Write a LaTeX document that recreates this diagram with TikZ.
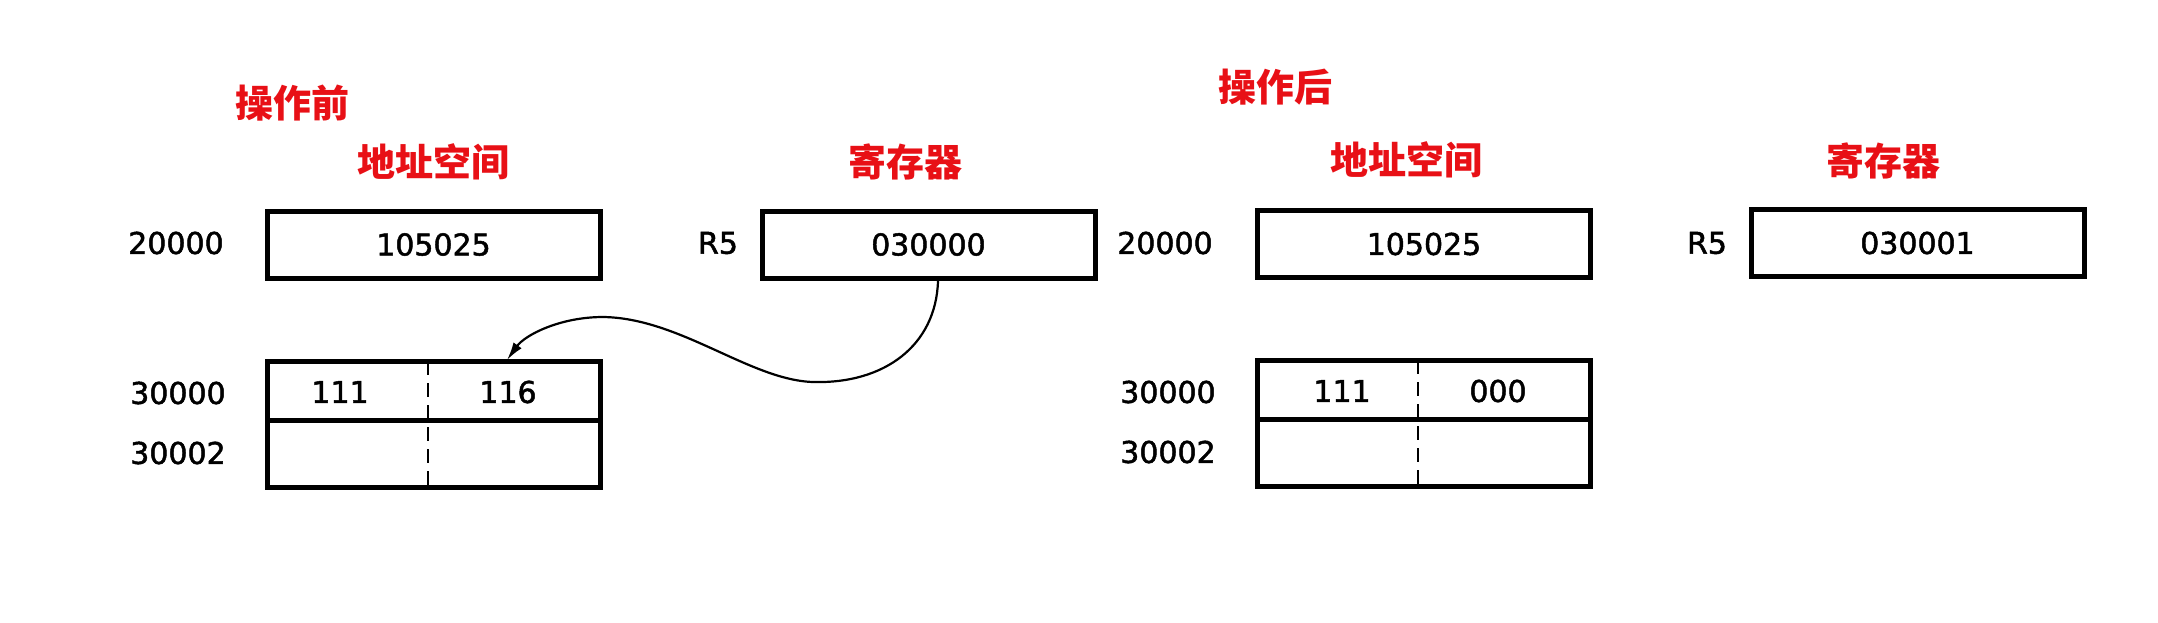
\documentclass[tikz,border=0pt]{standalone}
\usepackage{fontspec}
\setmainfont{DejaVu Sans}
\newfontfamily\digitfont{DejaVu Sans}[FakeBold=1.6]
\newfontfamily\cjk{Noto Sans CJK SC}
\usetikzlibrary{arrows.meta}
\definecolor{headred}{RGB}{232,16,22}
\tikzset{
  head/.style={text=headred, font=\cjk\bfseries\fontsize{38}{40}\selectfont, inner sep=0pt},
  num/.style={font=\digitfont\fontsize{30}{32}\selectfont, inner sep=0pt},
  cellbox/.style={draw, line width=5pt, minimum width=333pt, minimum height=67pt, inner sep=0pt, font=\digitfont\fontsize{30}{32}\selectfont},
  membox/.style={draw, line width=5pt, minimum width=333pt, minimum height=126pt, inner sep=0pt},
  divider/.style={line width=5pt},
  halfline/.style={line width=2.2pt, dash pattern=on 14pt off 8pt},
  pointer/.style={line width=2.2pt, -{Latex[length=18pt,width=10pt]}}
}
\begin{document}
\begin{tikzpicture}[x=1pt,y=-1pt]
\useasboundingbox (0,0) rectangle (2158,622);
% ---------- before ----------
\node[head] (hbefore) at (292,103) {操作前};
\node[head] (haddrL) at (433,162) {地址空间};
\node[head] (hregL) at (905,162) {寄存器};
\node[num] (a20000L) at (176,243) {20000};
\node[cellbox] (wordL) at (433.5,244.5) {105025};
\node[num] (r5L) at (718,243) {R5};
\node[cellbox] (regL) at (928.5,244.5) {030000};
\node[membox] (memL) at (434,424) {};
\coordinate (memLdivW) at (267,420);
\coordinate (memLdivE) at (601,420);
\coordinate (memLdashN) at (428,361);
\coordinate (memLdashS) at (428,487);
\draw[divider] (memLdivW) -- (memLdivE);
\draw[halfline] (memLdashN) -- (memLdashS);
\node[num] (c111L) at (340,392) {111};
\node[num] (c116L) at (508,392) {116};
\node[num] (a30000L) at (178,393) {30000};
\node[num] (a30002L) at (178,453) {30002};
\coordinate (ptrStart) at (938,281);
\coordinate (ptrEnd) at (507,360);
\draw[pointer] (ptrStart) .. controls (936,345) and (885,384) .. (813,382)
  .. controls (750,380) and (680,318) .. (603,317)
  .. controls (560,317) and (525,335) .. (ptrEnd);
% ---------- after ----------
\node[head] (hafter) at (1275,87) {操作后};
\node[head] (haddrR) at (1406,160) {地址空间};
\node[head] (hregR) at (1883,161) {寄存器};
\node[num] (a20000R) at (1165,243) {20000};
\node[cellbox] (wordR) at (1424,244) {105025};
\node[num] (r5R) at (1707,243) {R5};
\node[cellbox] (regR) at (1917.5,243) {030001};
\node[membox] (memR) at (1424,423) {};
\coordinate (memRdivW) at (1258,419);
\coordinate (memRdivE) at (1590,419);
\coordinate (memRdashN) at (1418,360);
\coordinate (memRdashS) at (1418,486);
\draw[divider] (memRdivW) -- (memRdivE);
\draw[halfline] (memRdashN) -- (memRdashS);
\node[num] (c111R) at (1342,391) {111};
\node[num] (c000R) at (1498,391) {000};
\node[num] (a30000R) at (1168,392) {30000};
\node[num] (a30002R) at (1168,452) {30002};
\end{tikzpicture}
\end{document}
